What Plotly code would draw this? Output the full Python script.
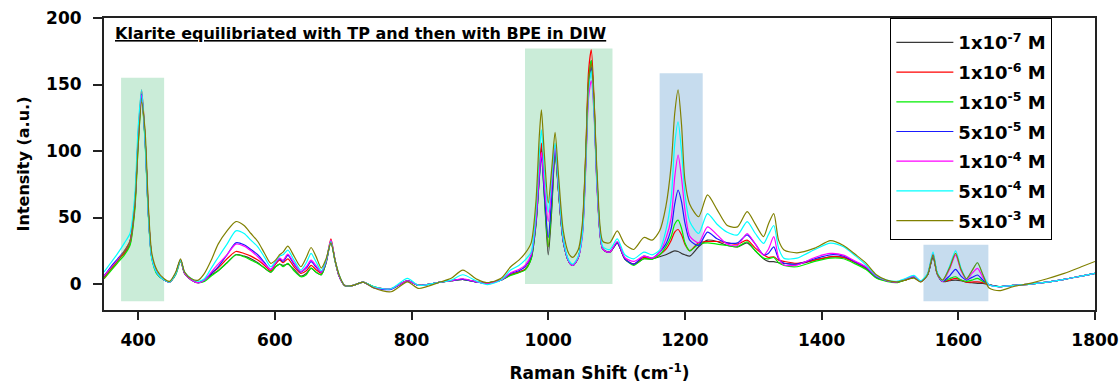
import plotly.graph_objects as go

# Raman shift grid (cm-1)
shift = [
    350, 360, 370, 380, 388, 395, 400, 405, 410, 415, 420, 428, 438,
    446, 455, 462, 468, 478, 488, 497, 507,
    517, 530, 543, 555, 565, 575, 585, 594, 601, 607, 612,
    619, 628, 638, 646, 653, 660, 668, 675, 682, 688, 694, 702,
    715, 729, 745, 770, 794, 810, 843, 858, 875, 896, 911, 931, 945, 957, 966,
    975, 982, 987, 990, 994, 1000, 1005, 1010, 1015, 1022, 1030, 1036, 1044,
    1050, 1055, 1059, 1063, 1067, 1072, 1080, 1090, 1101, 1112, 1125, 1140, 1152,
    1163, 1172, 1180, 1185, 1190, 1195, 1200, 1207, 1220, 1233, 1247,
    1262, 1277, 1291, 1303, 1315, 1322, 1330, 1337, 1345, 1364,
    1390, 1413, 1432, 1450, 1465, 1480, 1495, 1510, 1522, 1535, 1545, 1555,
    1563, 1569, 1577, 1587, 1596, 1604, 1612, 1620, 1628, 1636, 1645, 1660,
    1680, 1705, 1730, 1755, 1780, 1800,
]

c_1e7 = [
    5, 12, 18, 24, 32, 60, 108, 140, 110, 52, 20, 8, 3,
    1.5, 8, 18, 8, 3, 1, 3, 7,
    10, 16, 22, 21, 19, 16, 12, 9, 13, 15, 14,
    15, 11, 6, 8, 12, 9, 7, 16, 32, 18, 6, -1,
    -1, 1.5, -2, -3.5, 2.5, -1, 1.5, 2.5, 3.5, 1.5, 1, 3, 7, 9, 11,
    19, 45, 82, 103, 70, 22, 55, 100, 70, 32, 17, 14, 20,
    40, 95, 150, 168, 135, 70, 26, 24, 31, 19, 15, 19, 19,
    20.5, 22, 24, 25, 24.5, 23, 22, 21, 28, 33, 32,
    29, 28, 31, 25, 19, 17, 16.8, 16, 15.6, 15,
    18, 20.5, 20, 16, 11.5, 5, 2.5, 1.5, 3, 5, 2, 7,
    20, 8, 2, 2.5, 3, 2.5, 1.5, 1, 0.5, 0.5, -0.5, -2,
    -1, 0, 1.5, 3.5, 6, 8,
]
c_1e6 = [
    6, 12, 18, 23, 30, 58, 112, 146, 112, 54, 20, 8, 3,
    1.5, 8, 18, 8, 3, 1, 3, 8,
    12, 19, 24.5, 23, 21, 18, 14, 10, 15, 18, 16,
    19, 13, 8, 10, 14, 11, 8, 17, 34, 18, 6, -1,
    -1, 1.5, -2.5, -3.5, 2.5, -1, 1.5, 2.5, 3.5, 1.5, 1, 3, 7, 9, 11,
    20, 47, 86, 106, 76, 28, 60, 101, 70, 32, 17, 14, 20,
    42, 100, 160, 176, 140, 72, 26, 24, 31, 19, 15, 20, 19,
    22, 26, 33, 39, 41, 37, 30, 25, 31, 32, 32,
    31, 30, 33, 27, 22, 20, 20.5, 18, 17, 15.6,
    18, 20.5, 20, 16, 12, 5, 2.5, 1.5, 3, 5, 2, 7,
    22, 8, 2, 3, 4.3, 3, 1.5, 1.5, 1.7, 1, -0.5, -2,
    -1, 0, 1.5, 3.5, 6, 8,
]
c_1e5 = [
    4, 10, 16, 22, 29, 55, 104, 140, 108, 52, 19, 7, 3,
    1.5, 7, 17, 8, 3, 1, 2, 6,
    10, 16, 22, 20.5, 18, 15.5, 12, 9, 13, 15, 13,
    15.5, 10, 5.5, 7, 12, 9, 7, 16, 32, 17, 6, -1,
    -1, 1.5, -2, -3.5, 2.5, -1, 1.5, 2.5, 3.5, 1.5, 1, 3, 6.5, 8.5, 10.5,
    19, 44, 80, 98, 68, 28, 58, 100, 70, 32, 17, 14, 20,
    40, 95, 152, 168, 135, 70, 26, 24, 31, 19, 14, 19, 18.5,
    22, 28, 36, 45, 48, 42, 31, 25, 30, 31, 30,
    29, 28, 31.8, 25, 19.5, 19, 20, 16, 14, 13,
    17, 19.5, 19, 15, 11, 4.5, 2, 1, 3, 5, 2, 7,
    22, 8, 2, 4, 5.5, 3, 2, 3, 4.3, 2, -0.5, -2,
    -1, 0, 1.5, 3.5, 6, 8,
]
c_5e5 = [
    6, 13, 19, 25, 32, 60, 110, 143, 110, 52, 20, 8, 3,
    1.5, 8, 18, 8, 3, 1, 3, 8,
    13, 22, 31, 29.5, 26, 22, 16, 11, 16, 19, 17,
    21.5, 15, 9, 12, 16.8, 13, 9, 17, 32, 18, 6, -1,
    -1, 1.5, -3, -4, 2.5, -1, 1.5, 2.5, 3.5, 1.5, 0.5, 3, 8, 10, 13,
    21, 46, 80, 97, 70, 35, 64, 102, 71, 32, 17, 14, 20,
    38, 92, 148, 163, 132, 68, 26, 24, 31, 19, 15, 21, 19.5,
    24, 30, 42, 60, 70.7, 62, 46, 33, 29, 39, 34,
    31, 31, 37, 30, 22, 23, 28, 19, 15.6, 15,
    19, 22, 21, 16.5, 12.5, 5.5, 2.5, 1.5, 3.5, 5.5, 2, 7,
    22, 8, 2, 6, 11, 6, 3, 5, 6.8, 3, -0.5, -2,
    -1, 0, 1.5, 3.5, 6, 8,
]
c_1e4 = [
    6, 12, 18, 25, 32, 60, 110, 142, 110, 52, 20, 8, 3,
    1.5, 8, 18, 8, 3, 1, 3, 9,
    15, 22, 30, 28.5, 25, 20.5, 15, 11, 16, 19.5, 18,
    22.5, 16, 9.5, 13, 18, 14, 9, 17, 33, 18, 6, -1,
    -1, 1.5, -2.5, -3.5, 2.5, -1, 1.5, 2.5, 4, 1.5, 0.5, 3, 8.5, 11, 14,
    22, 48, 84, 99, 76, 47, 74, 104, 72, 33, 17, 14, 20,
    36, 88, 140, 153, 128, 66, 26, 24, 32, 20, 17, 21, 19.5,
    24, 34, 50, 80, 97, 80, 56, 36, 31, 43, 37,
    30, 29, 38, 30, 21.8, 26, 35.6, 20, 14.3, 14.3,
    20, 23, 21.8, 17, 13, 6, 2.5, 1.5, 3.5, 6, 2, 7.5,
    23, 8, 2, 11, 21.8, 10, 3.5, 8, 11.8, 5, -0.5, -2,
    -1, 0, 1.5, 3.5, 6, 8,
]
c_5e4 = [
    9, 16, 23, 31, 38, 66, 118, 146, 108, 50, 19, 8, 3,
    1.5, 8, 18, 9, 4, 2, 4, 12,
    20, 30, 40, 38, 33, 28, 20, 13, 17, 21, 22,
    25.5, 18, 10.5, 16, 23, 17, 10, 18, 32, 18, 7, -1,
    -1, 1.5, -2, -3.5, 4.3, -1, 1.5, 3, 7, 2, -0.5, 3, 10.5, 14, 18,
    24, 55, 98, 116, 88, 54, 80, 106, 74, 34, 18, 15, 21,
    38, 92, 146, 160, 130, 70, 28, 26, 34, 22, 19, 24, 22,
    25.5, 40, 65, 105, 122, 100, 68, 47, 38, 53, 45,
    39, 37, 47, 38, 30.6, 37, 44, 27, 19.3, 19.5,
    26, 30.8, 28, 21, 14.3, 6.5, 3, 2, 4, 6.5, 2.5, 8,
    24, 9, 2.5, 13, 25, 12, 4, 10, 16, 7, -0.5, -2,
    -1, 0, 1.5, 3.5, 6, 8,
]
c_5e3 = [
    4, 11, 17, 25, 32, 58, 104, 137, 116, 58, 23, 10, 4,
    2, 9, 19, 9, 4, 3, 8, 18,
    30, 40, 47, 44, 38, 32, 23, 15.5, 18, 22, 24,
    28.5, 21, 13, 20, 27.5, 21, 12, 19, 31, 18, 7, -1,
    -1, 1.5, -3, -5.8, 1.7, -3.3, 1.7, 4.3, 10.5, 3.5, 1, 4.3, 13, 18, 23,
    31, 62, 112, 131, 100, 61, 86, 114, 82, 40, 23, 20, 26,
    46, 100, 152, 166, 138, 78, 32, 31, 40, 30, 26, 35, 33,
    40, 58, 90, 128, 146, 120, 78, 60, 50.6, 67, 56,
    44, 43, 54.4, 45, 35.6, 45, 53, 33, 25.6, 23.5,
    27, 32.6, 29, 22, 15.7, 7, 3, 1.7, 3, 4.5, 1.5, 7,
    22, 8, 3, 12, 23, 11, 4, 10, 16, 7, -3, -5,
    -2, 0.5, 4, 8, 13, 17,
]

series_names = [
    "1x10<sup>-7</sup> M", "1x10<sup>-6</sup> M", "1x10<sup>-5</sup> M",
    "5x10<sup>-5</sup> M", "1x10<sup>-4</sup> M", "5x10<sup>-4</sup> M",
    "5x10<sup>-3</sup> M",
]
series_values = [c_1e7, c_1e6, c_1e5, c_5e5, c_1e4, c_5e4, c_5e3]
series_colors = ["#383838", "#ff0000", "#00ee00", "#1a1aff", "#ff00ff", "#00ffff", "#808000"]

# highlighted bands: (x0, x1, y0, y1, colour)
bands = [
    (375, 438, -13, 155, "rgb(202,236,216)"),
    (966, 1094, 0, 177, "rgb(202,236,216)"),
    (1163, 1226, 2, 158.5, "rgb(198,220,238)"),
    (1549, 1644, -13, 29.5, "rgb(198,220,238)"),
]

FONT = "DejaVu Sans, Liberation Sans, sans-serif"

fig = go.Figure()
for i, (name, vals, col) in enumerate(zip(series_names, series_values, series_colors)):
    fig.add_trace(go.Scatter(
        x=shift, y=vals, mode="lines", name=name,
        line=dict(color=col, width=1.2, shape="spline", smoothing=0.7),
        legendgroup=f"g{i}",
    ))

for x0, x1, y0, y1, col in bands:
    fig.add_shape(type="rect", xref="x", yref="y", x0=x0, x1=x1, y0=y0, y1=y1,
                  fillcolor=col, line=dict(width=0), layer="below")

fig.add_annotation(
    text="<u>Klarite equilibriated with TP and then with BPE in DIW</u>",
    xref="paper", yref="paper", x=0.009, y=0.985, xanchor="left", yanchor="top",
    showarrow=False, font=dict(family=FONT, size=16, color="black", weight="bold"),
)

fig.update_layout(
    width=1120, height=383,
    margin=dict(l=104, r=25, t=18, b=73, autoexpand=False),
    paper_bgcolor="white", plot_bgcolor="white",
    showlegend=True,
    legend=dict(
        x=0.7935, y=1, xanchor="left", yanchor="top",
        bordercolor="black", borderwidth=1, bgcolor="white",
        font=dict(family=FONT, size=18, color="black", weight="bold"),
        tracegroupgap=3.3, itemwidth=57,
        title=dict(text=" ", font=dict(size=4)),
    ),
    xaxis=dict(
        range=[350, 1800], tickvals=[400, 600, 800, 1000, 1200, 1400, 1600, 1800],
        automargin=False,
        showgrid=False, zeroline=False, showline=True, linecolor="#222", linewidth=2,
        mirror=True, ticks="outside", ticklen=8, tickwidth=2, tickcolor="#222",
        ticklabelstandoff=6,
        tickfont=dict(family=FONT, size=17, color="black", weight="bold"),
        title=dict(text="Raman Shift (cm<sup>-1</sup>)", standoff=18,
                   font=dict(family=FONT, size=17, color="black", weight="bold")),
    ),
    yaxis=dict(
        range=[-19.5, 200], tickvals=[0, 50, 100, 150, 200],
        automargin=False,
        showgrid=False, zeroline=False, showline=True, linecolor="#222", linewidth=2,
        mirror=True, ticks="outside", ticklen=9, tickwidth=2, tickcolor="#222",
        ticklabelstandoff=8,
        tickfont=dict(family=FONT, size=17, color="black", weight="bold"),
        title=dict(text="Intensity (a.u.)", standoff=12,
                   font=dict(family=FONT, size=16, color="black", weight="bold")),
    ),
)

fig.write_html("out.html")
